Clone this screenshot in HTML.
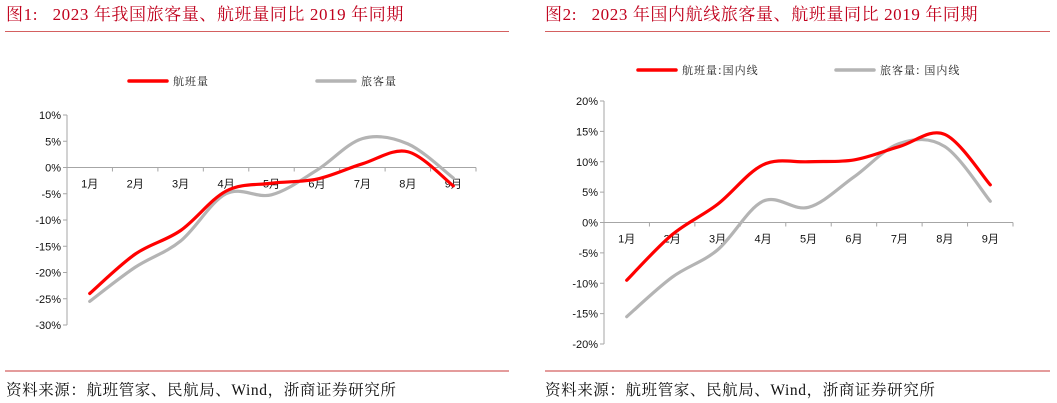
<!DOCTYPE html>
<html><head><meta charset="utf-8">
<style>
html,body{margin:0;padding:0;background:#fff;}
body{width:1057px;height:403px;overflow:hidden;position:relative;font-family:"Liberation Serif","Noto Serif CJK SC",serif;}
svg{position:absolute;left:0;top:0;}
</style></head>
<body>
<svg id="svg" width="1057" height="403">
  <text x="6" y="20" font-size="17" letter-spacing="0.6" fill="#c0001c" font-family="Liberation Serif, Noto Serif CJK SC, serif">图1:&#160;&#160;&#160;2023 年我国旅客量、航班量同比 2019 年同期</text>
  <line x1="5" y1="31.5" x2="509" y2="31.5" stroke="#d46060" stroke-width="1"/>
  <text x="545" y="20" font-size="17" letter-spacing="0.6" fill="#c0001c" font-family="Liberation Serif, Noto Serif CJK SC, serif">图2:&#160;&#160;&#160;2023 年国内航线旅客量、航班量同比 2019 年同期</text>
  <line x1="545" y1="31.5" x2="1050" y2="31.5" stroke="#d46060" stroke-width="1"/>
  <line x1="5" y1="371" x2="509" y2="371" stroke="#d46060" stroke-width="1.2"/>
  <line x1="545" y1="371" x2="1050" y2="371" stroke="#d46060" stroke-width="1.2"/>
  <text x="6" y="395" font-size="15.5" letter-spacing="0.6" fill="#111">资料来源：航班管家、民航局、Wind，浙商证券研究所</text>
  <text x="545" y="395" font-size="15.5" letter-spacing="0.6" fill="#111">资料来源：航班管家、民航局、Wind，浙商证券研究所</text>
</svg>
<script>
const months = ["1月","2月","3月","4月","5月","6月","7月","8月","9月"];
const c1Ticks = [10,5,0,-5,-10,-15,-20,-25,-30];
const c1Flights = [-24,-16.5,-12,-4.5,-3,-2.2,0.7,3,-3.5];
const c1Pax = [-25.5,-19,-14,-5,-5.2,-0.5,5.5,4.5,-2];
const c2Ticks = [20,15,10,5,0,-5,-10,-15,-20];
const c2Flights = [-9.5,-2,3,9.5,10,10.3,12.5,14.5,6.2];
const c2Pax = [-15.5,-9,-4.5,3.5,2.5,7.5,13,12.5,3.5];

const NS="http://www.w3.org/2000/svg";
const svg=document.getElementById('svg');
function mk(tag,attrs,parent){const e=document.createElementNS(NS,tag);for(const k in attrs)e.setAttribute(k,attrs[k]);(parent||svg).appendChild(e);return e;}
function smooth(pts){let d="M"+pts[0][0]+","+pts[0][1];for(let i=0;i<pts.length-1;i++){const p0=pts[Math.max(0,i-1)],p1=pts[i],p2=pts[i+1],p3=pts[Math.min(pts.length-1,i+2)];const t=1/6;d+=" C"+(p1[0]+(p2[0]-p0[0])*t)+","+(p1[1]+(p2[1]-p0[1])*t)+" "+(p2[0]-(p3[0]-p1[0])*t)+","+(p2[1]-(p3[1]-p1[1])*t)+" "+p2[0]+","+p2[1];}return d;}

function chart(o){
  const g=mk('g',{});
  
  
  const maxV=o.ticks[0],minV=o.ticks[o.ticks.length-1];
  const y=v=>o.top+(maxV-v)/(maxV-minV)*(o.bottom-o.top);
  const bw=(o.right-o.left)/months.length;
  const x=i=>o.left+bw*(i+0.5);
  const ax=mk('line',{x1:o.left,y1:o.top,x2:o.left,y2:o.bottom,stroke:'#a6a6a6','stroke-width':1},g);
  
  
  o.ticks.forEach(t=>{
    mk('line',{x1:o.left-4,y1:y(t),x2:o.left,y2:y(t),stroke:'#a6a6a6'},g);
    const tx=mk('text',{x:o.left-6,y:y(t)+4,'font-size':11,'text-anchor':'end','font-family':'Liberation Sans, sans-serif',fill:'#111'},g);
    tx.textContent=t+'%';
    
    
  });
  const xa=mk('line',{x1:o.left,y1:y(0),x2:o.right,y2:y(0),stroke:'#a6a6a6','stroke-width':1},g);
  
  
  for(let i=0;i<=months.length;i++)mk('line',{x1:o.left+bw*i,y1:y(0),x2:o.left+bw*i,y2:y(0)+4,stroke:'#a6a6a6'},g);
  months.forEach((m,i)=>{
    const tx=mk('text',{x:x(i),y:y(0)+20,'font-size':11,'text-anchor':'middle','font-family':'Liberation Sans, Noto Sans CJK SC, sans-serif',fill:'#111'},g);
    tx.textContent=m;
    
    
  });
  const series=[[o.pax,'#b4b4b4','passenger-line'],[o.flights,'#ff0000','flight-line']];
  series.forEach(s=>{
    const p=mk('path',{d:smooth(s[0].map((v,i)=>[x(i),y(v)])),fill:'none',stroke:s[1],'stroke-width':3.2,'stroke-linecap':'round'},g);
    
    
  });
  o.legend.forEach(l=>{
    const ln=mk('line',{x1:l.x,y1:l.y,x2:l.x+38,y2:l.y,stroke:l.c,'stroke-width':3.5,'stroke-linecap':'round'},g);
    
    
    const tx=mk('text',{x:l.x+44,y:l.y+4,'font-size':11,'letter-spacing':1,fill:'#222','font-family':'Noto Serif CJK SC, serif'},g);
    tx.textContent=l.t;
    
    
  });
}
chart({id:'chart1',left:67,right:476,top:115,bottom:325,ticks:c1Ticks,flights:c1Flights,pax:c1Pax,
  legend:[{x:129,y:81,c:'#ff0000',t:'航班量'},{x:317,y:81,c:'#b4b4b4',t:'旅客量'}]});
chart({id:'chart2',left:604,right:1013,top:101,bottom:344,ticks:c2Ticks,flights:c2Flights,pax:c2Pax,
  legend:[{x:638,y:70,c:'#ff0000',t:'航班量:国内线'},{x:836,y:70,c:'#b4b4b4',t:'旅客量: 国内线'}]});
</script>
</body></html>
